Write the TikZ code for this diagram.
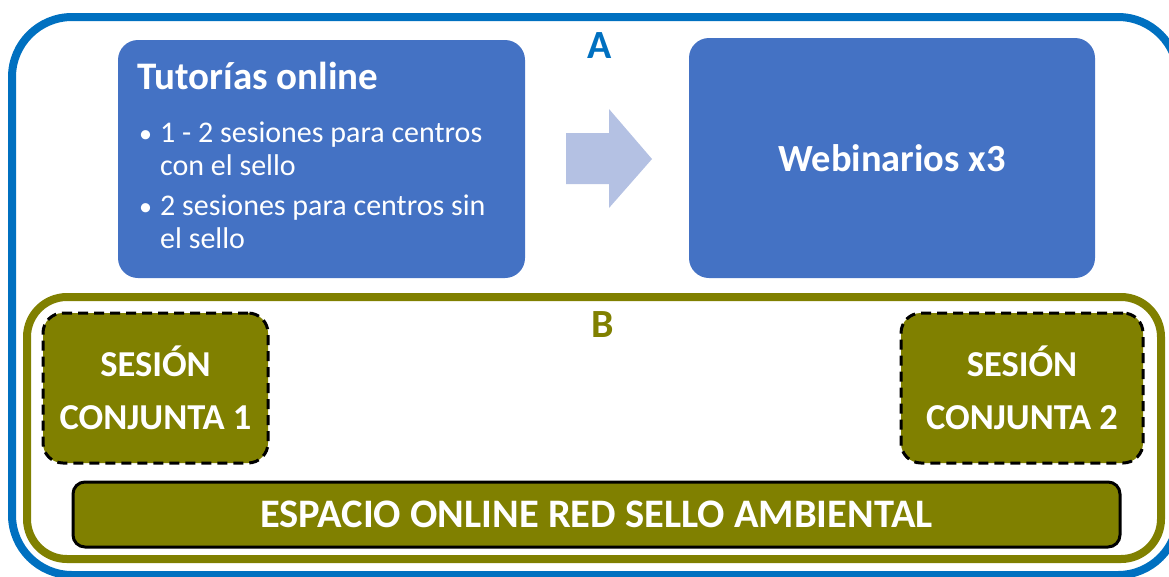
\documentclass[tikz,border=0pt]{standalone}
\usepackage{fontspec}
\setmainfont{Carlito}
\definecolor{outerblue}{HTML}{0070C0}
\definecolor{boxblue}{HTML}{4472C4}
\definecolor{arrowblue}{HTML}{B4C1E3}
\definecolor{olivebox}{HTML}{808000}
\newcommand{\mybul}{\makebox[23pt][l]{\hspace{2pt}{\fontsize{26}{33}\selectfont •}}}
\begin{document}
\begin{tikzpicture}[x=1pt,y=-1pt,
  frameA/.style={draw=outerblue, line width=8pt, rounded corners=60pt, inner sep=0pt},
  frameB/.style={draw=olivebox, line width=8pt, fill=white, rounded corners=40pt, inner sep=0pt},
  bluebox/.style={fill=boxblue, rounded corners=20pt, inner sep=0pt, text=white},
  sesbox/.style={fill=olivebox, draw=black, line width=3pt, dash pattern=on 10pt off 6pt, rounded corners=20pt, inner sep=0pt, text=white, align=center, font=\fontsize{36.5}{53}\selectfont\bfseries},
  barbox/.style={fill=olivebox, draw=black, line width=3pt, rounded corners=12pt, inner sep=0pt, text=white, font=\fontsize{40.5}{44}\selectfont\bfseries},
  letter/.style={inner sep=0pt, font=\fontsize{40}{44}\selectfont\bfseries}
]
\useasboundingbox (0,0) rectangle (1169,576);
% frame A
\node[frameA, minimum width=1166pt, minimum height=558pt] (A) at (595,296) {};
\node[letter, text=outerblue] (Alab) at (600,46) {A};
% blue boxes
\node[bluebox, minimum width=407pt, minimum height=238pt] (tut) at (321.5,159) {};
\node[bluebox, minimum width=406pt, minimum height=240pt] (web) at (892,158)
  {\fontsize{38.4}{42}\selectfont\bfseries Webinarios x3};
\node[anchor=base west, inner sep=0pt, text=white] (tuttitle) at (137,89)
  {\fontsize{39}{42}\selectfont\bfseries Tutorías online};
\node[anchor=base west, inner sep=0pt, text=white] (tutlist) at (137,142)
  {\fontsize{30}{33}\selectfont
   \begin{tabular}[t]{@{}l@{}l@{}}
   \mybul & 1 - 2 sesiones para centros\\
     & con el sello\\[7pt]
   \mybul & 2 sesiones para centros sin\\
     & el sello
   \end{tabular}};
% arrow
\fill[arrowblue] (566,133) -- (609,133) -- (609,109) -- (652,159) -- (609,208) -- (609,184) -- (566,184) -- cycle;
% frame B
\node[frameB, minimum width=1134pt, minimum height=262pt] (B) at (594,428) {};
\node[letter, text=olivebox] (Blab) at (603,325) {B};
\node[sesbox, minimum width=225pt, minimum height=150pt] (s1) at (155.5,388)
  {SESIÓN\\CONJUNTA 1};
\node[sesbox, minimum width=242pt, minimum height=150pt] (s2) at (1022,388)
  {SESIÓN\\CONJUNTA 2};
\node[barbox, minimum width=1047pt, minimum height=65pt] (bar) at (596.5,514.5)
  {ESPACIO ONLINE RED SELLO AMBIENTAL};
\end{tikzpicture}
\end{document}
